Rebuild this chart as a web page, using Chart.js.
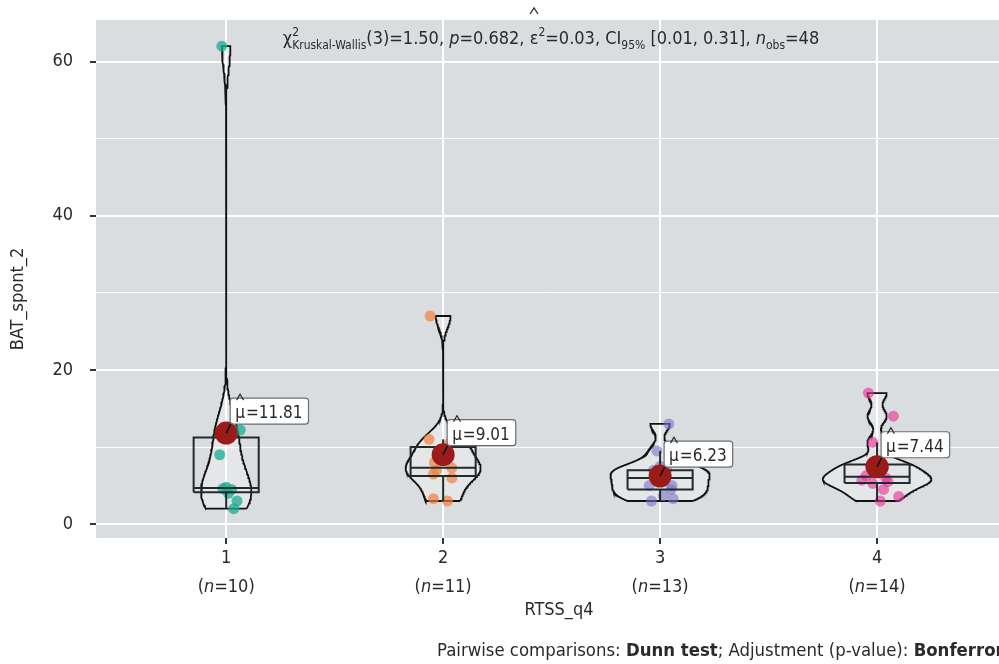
<!DOCTYPE html>
<html>
<head>
<meta charset="utf-8">
<script src="https://cdn.jsdelivr.net/npm/chart.js@4.4.1/dist/chart.umd.min.js"></script>
<style>
  html, body { margin: 0; padding: 0; background: #fff; }
  #wrap { width: 999px; height: 664px; }
</style>
</head>
<body>
<div id="wrap"><canvas id="c" width="999" height="664"></canvas></div>
<script>
// ---- data -----------------------------------------------------------
const categories = ['1', '2', '3', '4'];
const bat1 = [62, 12.2, 12, 9, 4.8, 4.6, 4.5, 4, 3, 2];
const bat2 = [27, 11, 10.5, 9.5, 8, 7.3, 7, 6.5, 6, 3.3, 3];
const bat3 = [13, 9.5, 7.5, 7, 7, 6.5, 6, 5, 5, 4.5, 3.7, 3.3, 3];
const bat4 = [17, 14, 10.6, 7.8, 7.6, 7.3, 6.3, 6, 5.7, 5.5, 5.3, 4.5, 3.6, 3];
// horizontal jitter of the raw points (in category units)
const jitter1 = [-0.02, 0.065, 0.03, -0.03, 0.0, -0.015, 0.025, 0.01, 0.05, 0.035];
const jitter2 = [-0.06, -0.065, 0.03, 0.01, -0.04, 0.04, -0.03, -0.045, 0.04, -0.045, 0.02];
const jitter3 = [0.04, -0.015, 0.0, 0.03, -0.03, 0.02, -0.02, 0.055, -0.05, 0.05, 0.015, 0.06, -0.04];
const jitter4 = [-0.04, 0.075, -0.02, 0.0, -0.03, 0.03, -0.05, 0.04, -0.07, 0.05, -0.02, 0.03, 0.1, 0.015];
const yTicks = [0, 20, 40, 60];
const yMinorTicks = [10, 30, 50];

const groups = [bat1, bat2, bat3, bat4];
const jitters = [jitter1, jitter2, jitter3, jitter4];

// ---- look -----------------------------------------------------------
const FONT = '"Liberation Sans Narrow", "DejaVu Sans Condensed", "Roboto Condensed", "Open Sans", sans-serif';
const TEXT = '#2a2a2a';
const PANEL = '#dadddf';
const pointColors = ['rgba(24,172,148,0.75)', 'rgba(242,128,60,0.7)', 'rgba(118,112,200,0.58)', 'rgba(232,48,150,0.62)'];
const MEAN_COLOR = '#9b1b1b';
const OUTLINE = '#1f2b2d';

// ---- statistics -----------------------------------------------------
function quantile(sorted, p) {
  const h = (sorted.length - 1) * p;
  const lo = Math.floor(h);
  const hi = Math.min(lo + 1, sorted.length - 1);
  return sorted[lo] + (h - lo) * (sorted[hi] - sorted[lo]);
}
function mean(v) { return v.reduce((a, b) => a + b, 0) / v.length; }
function boxStats(v) {
  const s = [...v].sort((a, b) => a - b);
  const q1 = quantile(s, 0.25), med = quantile(s, 0.5), q3 = quantile(s, 0.75);
  const iqr = q3 - q1;
  const lo = s.find(x => x >= q1 - 1.5 * iqr);
  const hi = [...s].reverse().find(x => x <= q3 + 1.5 * iqr);
  return { q1, med, q3, lo, hi };
}
function bwNrd0(v) {
  const n = v.length, m = mean(v);
  const sd = Math.sqrt(v.reduce((a, b) => a + (b - m) ** 2, 0) / (n - 1));
  const s = [...v].sort((a, b) => a - b);
  let lo = Math.min(sd, (quantile(s, 0.75) - quantile(s, 0.25)) / 1.34);
  if (!(lo > 0)) lo = sd || Math.abs(s[0]) || 1;
  return 0.9 * lo * Math.pow(n, -0.2);
}
function density(v) {
  const bw = bwNrd0(v), n = v.length;
  const lo = Math.min(...v), hi = Math.max(...v);
  const out = [];
  const steps = 256;
  for (let i = 0; i <= steps; i++) {
    const y = lo + (hi - lo) * i / steps;
    let d = 0;
    for (const x of v) { const z = (y - x) / bw; d += Math.exp(-0.5 * z * z); }
    out.push({ y, d: d / (n * bw * Math.sqrt(2 * Math.PI)) });
  }
  return out;
}

const means = groups.map(mean);
const boxes = groups.map(boxStats);
const dens = groups.map(density);
const maxDens = Math.max(...dens.map(g => Math.max(...g.map(p => p.d))));
const VIOLIN_W = 0.5, BOX_W = 0.3;

// ---- datasets -------------------------------------------------------
// order: lower numbers are drawn on top
const datasets = [];
groups.forEach((vals, gi) => {
  const c = gi + 1;
  const d = dens[gi];
  const right = d.map(p => ({ x: c + (VIOLIN_W / 2) * p.d / maxDens, y: p.y }));
  const left = d.slice().reverse().map(p => ({ x: c - (VIOLIN_W / 2) * p.d / maxDens, y: p.y }));
  const poly = right.concat(left);
  poly.push(poly[0]);
  datasets.push({
    type: 'line', order: 6, data: poly, borderColor: '#111', borderWidth: 1.8,
    backgroundColor: 'rgba(255,255,255,0.28)', fill: 'shape', pointRadius: 0, pointHoverRadius: 0, tension: 0
  });
  datasets.push({
    type: 'scatter', label: 'points ' + categories[gi], order: 5,
    data: vals.map((v, j) => ({ x: c + jitters[gi][j], y: v })),
    pointRadius: 5.5, pointHoverRadius: 5.5, pointBackgroundColor: pointColors[gi], pointBorderWidth: 0
  });
  const b = boxes[gi], x0 = c - BOX_W / 2, x1 = c + BOX_W / 2;
  const seg = (pts, w) => ({
    type: 'line', order: 3, data: pts, borderColor: OUTLINE, borderWidth: w,
    pointRadius: 0, pointHoverRadius: 0, fill: false, tension: 0
  });
  datasets.push(seg([{ x: x0, y: b.q1 }, { x: x1, y: b.q1 }, { x: x1, y: b.q3 }, { x: x0, y: b.q3 }, { x: x0, y: b.q1 }], 2));
  datasets.push(seg([{ x: x0, y: b.med }, { x: x1, y: b.med }], 2));
  datasets.push(seg([{ x: c, y: b.q1 }, { x: c, y: b.lo }], 2));
  datasets.push(seg([{ x: c, y: b.q3 }, { x: c, y: b.hi }], 2));
});
datasets.push({
  type: 'scatter', label: 'mean', order: 1,
  data: means.map((m, i) => ({ x: i + 1, y: m })),
  pointRadius: 11.5, pointHoverRadius: 11.5, pointBackgroundColor: MEAN_COLOR, pointBorderWidth: 0
});

// ---- text helpers ---------------------------------------------------
function drawHat(ctx, cx, top, w, h) {
  ctx.beginPath();
  ctx.moveTo(cx - w / 2, top + h);
  ctx.lineTo(cx, top);
  ctx.lineTo(cx + w / 2, top + h);
  ctx.stroke();
}
// segments: [text, kind]; kind: '' | 'i' | 'b' | 'sup' | 'sub' | 'sup0' (sup stacked over next sub) | 'hat'
function drawRich(ctx, segs, x, y, size, align, color) {
  const parts = [];
  let w = 0, pendingSup = 0;
  segs.forEach(([t, k]) => {
    const small = k === 'sup' || k === 'sub' || k === 'sup0';
    const fs = small ? Math.round(size * 0.68) : size;
    const font = (k === 'i' ? 'italic ' : '') + (k === 'b' ? 'bold ' : '') + fs + 'px ' + FONT;
    ctx.font = font;
    const tw = ctx.measureText(t).width;
    const dy = (k === 'sup' || k === 'sup0') ? -size * 0.42 : k === 'sub' ? size * 0.3 : 0;
    parts.push({ t, k, font, tw, dy, x: w });
    if (k === 'sup0') { pendingSup = tw; return; }
    w += Math.max(tw, pendingSup);
    pendingSup = 0;
  });
  const x0 = align === 'center' ? x - w / 2 : align === 'right' ? x - w : x;
  ctx.save();
  ctx.fillStyle = color; ctx.strokeStyle = color;
  ctx.textAlign = 'left'; ctx.textBaseline = 'alphabetic';
  parts.forEach(p => {
    ctx.font = p.font;
    ctx.fillText(p.t, x0 + p.x, y + p.dy);
    if (p.k === 'hat') { ctx.lineWidth = 1.3; drawHat(ctx, x0 + p.x + p.tw / 2, y - size * 2.0, 8, 6); }
  });
  ctx.restore();
}

const subtitle = [['\u03c7', ''], ['2', 'sup0'], ['Kruskal-Wallis', 'sub'], ['(3)=1.50, ', ''], ['p', 'i'], ['=0.682, ', ''],
  ['\u03b5', 'hat'], ['2', 'sup'], ['=0.03, CI', ''], ['95%', 'sub'], [' [0.01, 0.31], ', ''], ['n', 'i'], ['obs', 'sub'], ['=48', '']];
const caption = [['Pairwise comparisons: ', ''], ['Dunn test', 'b'], ['; Adjustment (p-value): ', ''], ['Bonferroni', 'b']];

const panelPlugin = {
  id: 'panel',
  beforeDraw(chart) {
    const { ctx, chartArea: a } = chart;
    ctx.save();
    ctx.fillStyle = '#fff';
    ctx.fillRect(0, 0, chart.width, chart.height);
    ctx.fillStyle = PANEL;
    ctx.fillRect(a.left, a.top, a.right - a.left, a.bottom - a.top);
    ctx.restore();
  }
};

const meanLabelPlugin = {
  id: 'meanLabels',
  afterDatasetsDraw(chart) {
    const { ctx, scales: { x, y } } = chart;
    ctx.save();
    means.forEach((m, i) => {
      const px = x.getPixelForValue(i + 1), py = y.getPixelForValue(m);
      const txt = '=' + m.toFixed(2);
      ctx.font = '17px ' + FONT;
      const muW = ctx.measureText('\u03bc').width, tw = ctx.measureText(txt).width;
      const h = 26, bw = muW + tw + 12;
      const bx = px + 4, by = py - 35;
      ctx.strokeStyle = '#111'; ctx.lineWidth = 1.6;
      ctx.beginPath(); ctx.moveTo(px, py); ctx.lineTo(bx + 1, by + h - 1); ctx.stroke();
      ctx.fillStyle = '#fff'; ctx.strokeStyle = '#6d6d6d'; ctx.lineWidth = 1.2;
      ctx.beginPath(); ctx.roundRect(bx, by, bw, h, 3); ctx.fill(); ctx.stroke();
      ctx.fillStyle = TEXT; ctx.strokeStyle = TEXT;
      ctx.textAlign = 'left'; ctx.textBaseline = 'alphabetic';
      const base = by + 20;
      ctx.fillText('\u03bc', bx + 5, base);
      ctx.fillText(txt, bx + 5 + muW + 1, base);
      ctx.lineWidth = 1.2;
      drawHat(ctx, bx + 5 + muW / 2, by - 4, 7, 6);
    });
    ctx.restore();
  }
};

const textPlugin = {
  id: 'texts',
  afterDraw(chart) {
    const { ctx, scales: { x } } = chart;
    drawRich(ctx, subtitle, 551, 44, 18, 'center', TEXT);
    const counts = groups.map(g => g.length);
    ctx.save();
    ctx.fillStyle = TEXT;
    categories.forEach((c, i) => {
      const px = x.getPixelForValue(i + 1);
      ctx.font = '18px ' + FONT; ctx.textAlign = 'center'; ctx.textBaseline = 'alphabetic';
      ctx.fillText(c, px, 563);
      drawRich(ctx, [['(', ''], ['n', 'i'], ['=' + counts[i] + ')', '']], px, 592, 18, 'center', TEXT);
    });
    ctx.font = '18px ' + FONT; ctx.textAlign = 'center';
    ctx.fillText('RTSS_q4', 559, 615);
    ctx.translate(18, 299); ctx.rotate(-Math.PI / 2);
    ctx.textBaseline = 'middle';
    ctx.fillText('BAT_spont_2', 0, 0);
    ctx.restore();
    drawRich(ctx, caption, 437, 656, 18.4, 'left', TEXT);
  }
};

Chart.defaults.font.family = FONT;
new Chart(document.getElementById('c'), {
  type: 'scatter',
  data: { datasets },
  plugins: [panelPlugin, meanLabelPlugin, textPlugin],
  options: {
    responsive: false,
    animation: false,
    events: [],
    layout: { autoPadding: false, padding: { top: 20, left: 0, right: 0, bottom: 0 } },
    plugins: { legend: { display: false }, tooltip: { enabled: false } },
    scales: {
      x: {
        type: 'linear', min: 0.4, max: 4.562,
        afterBuildTicks: s => { s.ticks = categories.map((_, i) => ({ value: i + 1 })); },
        afterFit: s => { s.height = 126; s.paddingLeft = 0; s.paddingRight = 0; },
        ticks: { autoSkip: false, callback: () => '' },
        grid: { color: '#ffffff', lineWidth: 2, tickColor: '#333', tickLength: 6, tickWidth: 2 },
        border: { display: false }
      },
      y: {
        type: 'linear', min: -1.8, max: 65.4,
        afterBuildTicks: s => { s.ticks = yTicks.concat(yMinorTicks).sort((a, b) => a - b).map(v => ({ value: v })); },
        afterFit: s => { s.width = 96; s.paddingTop = 0; s.paddingBottom = 0; },
        ticks: {
          autoSkip: false, padding: 17, color: TEXT, font: { size: 18, family: FONT },
          callback: v => (yTicks.includes(v) ? String(v) : '')
        },
        grid: {
          color: '#ffffff',
          lineWidth: c => (c.tick && yTicks.includes(c.tick.value) ? 2 : 1),
          tickColor: c => (c.tick && yTicks.includes(c.tick.value) ? '#333' : 'rgba(0,0,0,0)'),
          tickLength: 6, tickWidth: 2
        },
        border: { display: false }
      }
    }
  }
});
</script>
</body>
</html>
